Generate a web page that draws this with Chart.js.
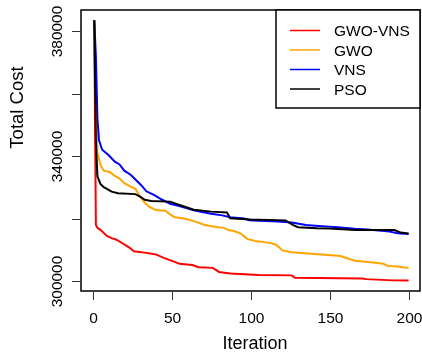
<!DOCTYPE html>
<html>
<head>
<meta charset="utf-8">
<script src="https://cdn.jsdelivr.net/npm/chart.js@4.4.1/dist/chart.umd.min.js"></script>
<style>
  html, body { margin: 0; padding: 0; background: #fff; }
  #grafico { display: block; }
</style>
</head>
<body>
<canvas id="grafico" width="422" height="352"></canvas>
<script>
// Séries (iteração, custo)
const gwoVnsIter = [1, 2, 3, 5, 9, 12, 15, 19, 22, 24, 26, 34, 40, 45, 51, 55, 63, 67, 76, 80, 87, 105, 126, 128, 171, 173, 190, 200];
const gwoVnsCost = [383400, 318000, 317000, 316300, 314400, 313700, 313200, 312000, 311100, 310400, 309500, 309000, 308500, 307400, 306300, 305500, 305100, 304400, 304200, 302900, 302400, 301900, 301800, 301050, 300800, 300600, 300200, 300150];

const gwoIter = [1, 2, 3, 4, 5, 7, 11, 14, 17, 20, 24, 27, 30, 33, 36, 40, 46, 49, 52, 58, 65, 71, 78, 83, 86, 90, 94, 96, 98, 104, 112, 116, 118, 120, 126, 134, 149, 157, 161, 166, 176, 184, 187, 192, 197, 200];
const gwoCost = [383000, 356000, 341000, 339000, 337000, 335300, 334800, 333600, 332800, 331300, 330200, 329500, 327000, 325000, 323700, 322700, 322500, 321300, 320400, 320000, 319000, 317900, 317300, 317000, 316300, 315900, 315100, 314200, 313400, 312700, 312200, 311600, 310800, 309800, 309200, 308900, 308300, 308000, 307300, 306500, 306000, 305500, 304800, 304700, 304300, 304200];

const vnsIter = [1, 2, 3, 4, 6, 10, 14, 17, 20, 24, 28, 31, 34, 39, 44, 49, 53, 57, 64, 70, 75, 82, 87, 96, 99, 117, 126, 135, 143, 150, 155, 166, 174, 188, 193, 200];
const vnsCost = [383400, 372000, 352000, 345000, 342000, 340300, 338200, 337300, 335300, 334000, 332000, 330500, 328700, 327500, 326000, 324700, 324200, 323700, 322600, 322000, 321500, 321000, 320400, 320000, 319400, 319000, 318700, 317900, 317600, 317400, 317200, 316700, 316500, 315800, 315300, 315000];

const psoIter = [1, 2, 3, 5, 7, 9, 12, 16, 27, 30, 33, 37, 49, 54, 64, 75, 85, 87, 100, 122, 127, 130, 142, 150, 166, 191, 195, 200];
const psoCost = [383400, 345000, 333500, 331000, 330000, 329500, 328600, 328100, 327800, 327000, 326000, 325600, 325400, 324500, 322800, 322200, 321900, 320100, 319700, 319400, 317900, 317200, 316900, 316800, 316300, 316300, 315500, 315200];

const seriesNames = ['GWO-VNS', 'GWO', 'VNS', 'PSO'];
const seriesColors = ['#ff0000', '#ffa500', '#0000ff', '#000000'];

const xTicks = [0, 50, 100, 150, 200];
const yTicks = [300000, 320000, 340000, 360000, 380000];
const yTickLabels = ['300000', '', '340000', '', '380000'];

const fonte = '"Liberation Sans", Arial, sans-serif';

function pontos(iters, custos) {
    return iters.map((it, i) => ({ x: it, y: custos[i] }));
}

// Eixos, caixa e legenda no estilo do R
const decoracao = {
    id: 'decoracao',
    afterDraw(chart) {
        const ctx = chart.ctx;
        const area = chart.chartArea;
        const sx = chart.scales.x;
        const sy = chart.scales.y;
        ctx.save();

        // caixa
        ctx.strokeStyle = '#000';
        ctx.lineWidth = 1.5;
        ctx.strokeRect(area.left, area.top, area.right - area.left, area.bottom - area.top);

        // marcas e rótulos do eixo x
        ctx.lineWidth = 1;
        ctx.strokeStyle = '#333';
        ctx.fillStyle = '#000';
        ctx.font = '15.5px ' + fonte;
        ctx.textAlign = 'center';
        ctx.textBaseline = 'alphabetic';
        xTicks.forEach(v => {
            const px = Math.round(sx.getPixelForValue(v)) + 0.5;
            ctx.beginPath();
            ctx.moveTo(px, area.bottom);
            ctx.lineTo(px, area.bottom + 9);
            ctx.stroke();
            ctx.fillText(String(v), px, 323);
        });

        // marcas e rótulos do eixo y
        yTicks.forEach((v, i) => {
            const py = Math.round(sy.getPixelForValue(v)) + 0.5;
            ctx.beginPath();
            ctx.moveTo(area.left - 9, py);
            ctx.lineTo(area.left, py);
            ctx.stroke();
            if (yTickLabels[i]) {
                ctx.save();
                ctx.translate(61.5, py);
                ctx.rotate(-Math.PI / 2);
                ctx.fillText(yTickLabels[i], 0, 0);
                ctx.restore();
            }
        });

        // títulos dos eixos
        ctx.font = '18px ' + fonte;
        ctx.fillText('Iteration', 255, 349);
        ctx.save();
        ctx.translate(23, 107.5);
        ctx.rotate(-Math.PI / 2);
        ctx.font = '18.5px ' + fonte;
        ctx.fillText('Total Cost', 0, 0);
        ctx.restore();

        // legenda
        const legLeft = 276, legTop = area.top, legBottom = 108;
        ctx.fillStyle = '#fff';
        ctx.fillRect(legLeft, legTop, area.right - legLeft, legBottom - legTop);
        ctx.strokeStyle = '#000';
        ctx.lineWidth = 1.5;
        ctx.strokeRect(legLeft, legTop, area.right - legLeft, legBottom - legTop);
        ctx.font = '15.5px ' + fonte;
        ctx.textAlign = 'left';
        ctx.fillStyle = '#000';
        seriesNames.forEach((nome, i) => {
            const ly = 30.5 + i * 19.5;
            ctx.strokeStyle = seriesColors[i];
            ctx.lineWidth = 1.5;
            ctx.beginPath();
            ctx.moveTo(290, ly);
            ctx.lineTo(320, ly);
            ctx.stroke();
            ctx.fillText(nome, 334, ly + 5.6);
        });

        ctx.restore();
    }
};

new Chart(document.getElementById('grafico'), {
    type: 'line',
    data: {
        datasets: [
            { label: seriesNames[0], data: pontos(gwoVnsIter, gwoVnsCost), borderColor: seriesColors[0], order: 3 },
            { label: seriesNames[1], data: pontos(gwoIter, gwoCost), borderColor: seriesColors[1], order: 2 },
            { label: seriesNames[2], data: pontos(vnsIter, vnsCost), borderColor: seriesColors[2], order: 1 },
            { label: seriesNames[3], data: pontos(psoIter, psoCost), borderColor: seriesColors[3], order: 0 }
        ]
    },
    options: {
        responsive: false,
        animation: false,
        devicePixelRatio: 1,
        layout: { padding: { left: 81, right: 2, top: 10, bottom: 61 } },
        elements: {
            line: { borderWidth: 2, tension: 0, fill: false },
            point: { radius: 0 }
        },
        plugins: {
            legend: { display: false },
            tooltip: { enabled: false }
        },
        scales: {
            x: { type: 'linear', min: -7.4, max: 207.2, display: false },
            y: { type: 'linear', min: 296800, max: 386720, display: false }
        }
    },
    plugins: [decoracao]
});
</script>
</body>
</html>
